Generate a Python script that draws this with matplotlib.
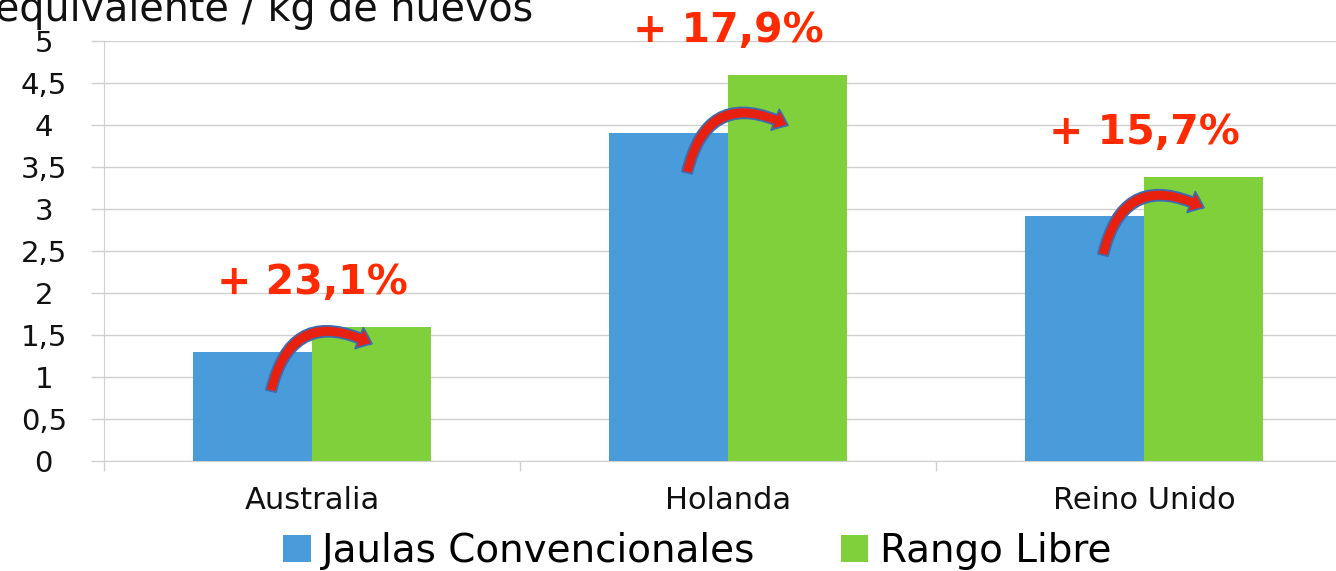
import matplotlib
matplotlib.use("Agg")
import matplotlib.pyplot as plt
from matplotlib.patches import FancyArrowPatch, Patch
import numpy as np

# ---- data ----
categories = ["Australia", "Holanda", "Reino Unido"]
series_names = ["Jaulas Convencionales", "Rango Libre"]
jaulas = [1.30, 3.90, 2.92]
rango = [1.60, 4.60, 3.38]
increase_labels = ["+ 23,1%", "+ 17,9%", "+ 15,7%"]
y_ticks = [0, 0.5, 1, 1.5, 2, 2.5, 3, 3.5, 4, 4.5, 5]
y_tick_labels = ["0", "0,5", "1", "1,5", "2", "2,5", "3", "3,5", "4", "4,5", "5"]
title_text = "equivalente / kg de huevos"

BLUE = "#4A9BDA"
GREEN = "#7FD03B"
RED_TXT = "#FF2A00"
RED_ARROW = "#E8200F"
ARROW_EDGE = "#3C6DB0"
GRID = "#D0D0D0"

plt.rcParams['font.family'] = ['DejaVu Sans']

W, H = 1336, 571
fig = plt.figure(figsize=(W / 100, H / 100), dpi=100)
ax = fig.add_axes([104 / W, 1 - 461 / H, 1248 / W, 420 / H])

x = np.arange(len(categories))
bw = 0.286
ax.bar(x - bw / 2, jaulas, width=bw, color=BLUE, zorder=3)
ax.bar(x + bw / 2, rango, width=bw, color=GREEN, zorder=3)

ax.set_xlim(-0.5, len(categories) - 0.5)
ax.set_ylim(0, 5)
ax.set_yticks(y_ticks)
ax.set_yticklabels(y_tick_labels, fontsize=21, color="#111111")
for lab in ax.get_yticklabels():
    lab.set_horizontalalignment("center")
ax.tick_params(axis="y", length=9.4, width=1, color=GRID, pad=34)
ax.yaxis.grid(True, color=GRID, linewidth=1, zorder=0)

ax.set_xticks(x)
ax.set_xticklabels(categories, fontsize=22, color="#111111")
ax.tick_params(axis="x", which="major", length=0, pad=18)
ax.set_xticks(np.arange(-0.5, len(categories), 1.0), minor=True)
ax.tick_params(axis="x", which="minor", length=7, width=1, color=GRID)

for s in ["top", "right"]:
    ax.spines[s].set_visible(False)
ax.spines["left"].set_color(GRID)
ax.spines["bottom"].set_color(GRID)
ax.set_axisbelow(True)

# percentage labels and curved arrows
for i in range(len(categories)):
    ax.text(x[i], rango[i] + 0.52, increase_labels[i], ha="center", va="center",
            fontsize=29.5, fontweight="bold", color=RED_TXT, zorder=5, clip_on=False)
    y0 = jaulas[i] - 0.5
    arr = FancyArrowPatch((x[i] - 0.1, y0), (x[i] + 0.15, y0 + 0.58),
                          connectionstyle="arc3,rad=-0.65",
                          arrowstyle="simple,head_length=10,head_width=16,tail_width=7.5",
                          facecolor=RED_ARROW, edgecolor=ARROW_EDGE, linewidth=1.3,
                          zorder=6)
    ax.add_patch(arr)

# title (partially cut in the reference)
fig.text(-0.004, 1 - 21 / H, title_text, ha="left", va="baseline", fontsize=28.5,
         color="#111111")

# legend
handles = [Patch(facecolor=BLUE, edgecolor="none"), Patch(facecolor=GREEN, edgecolor="none")]
fig.legend(handles, series_names, loc="lower center", bbox_to_anchor=(0.522, -0.026),
           ncol=2, frameon=False, fontsize=28, handlelength=0.7, handleheight=0.7,
           handletextpad=0.3, columnspacing=2.2, borderaxespad=0)

fig.savefig("out.png", dpi=100)
